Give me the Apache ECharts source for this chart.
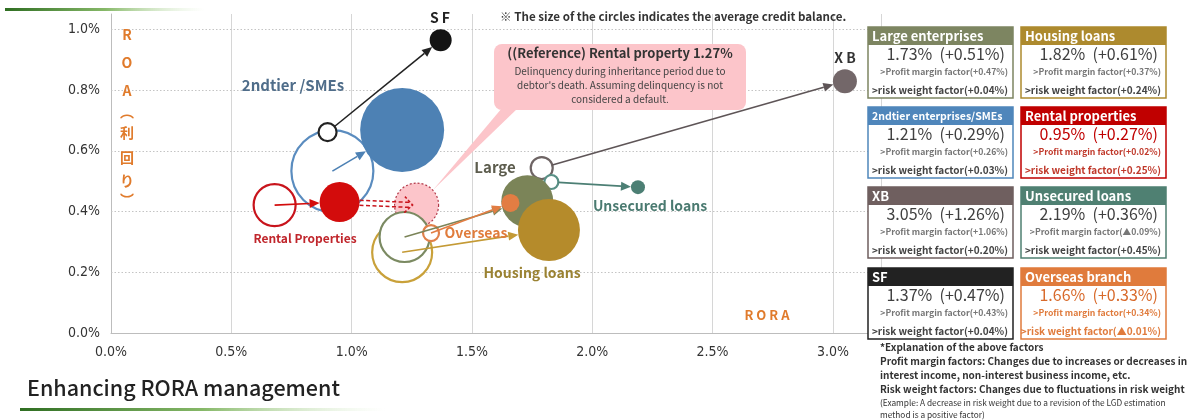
<!DOCTYPE html>
<html><head><meta charset="utf-8">
<script src="https://cdn.jsdelivr.net/npm/echarts@6/dist/echarts.min.js"></script>
<style>html,body{margin:0;padding:0;background:#fff}#c{width:1192px;height:420px}</style>
</head><body><div id="c"></div>
<script>
// ---- data ----
const categories = ['SF','2ndtier/SMEs','Rental properties','Large enterprises','Housing loans','Overseas branch','Unsecured loans','XB'];
const roraCur  = [1.37, 1.21, 0.95, 1.73, 1.82, 1.66, 2.19, 3.05];
const roaCur   = [0.964, 0.668, 0.431, 0.434, 0.339, 0.428, 0.480, 0.829];
const roraPrev = [0.90, 0.92, 0.68, 1.22, 1.21, 1.33, 1.83, 1.79];
const roaPrev  = [0.661, 0.533, 0.421, 0.316, 0.266, 0.329, 0.497, 0.543];
const balanceCur  = [22, 84, 40, 52, 62, 18, 14, 24];
const balancePrev = [18, 82, 42, 50, 60, 16, 14, 22];
const refRora = 1.27, refRoa = 0.421, refBalance = 44;
const xTicks = [0, 0.5, 1.0, 1.5, 2.0, 2.5, 3.0];
const yTicks = [0.2, 0.4, 0.6, 0.8, 1.0];

const panelNames  = ['Large enterprises','Housing loans','2ndtier enterprises/SMEs','Rental properties','XB','Unsecured loans','SF','Overseas branch'];
const panelRora   = ['1.73%','1.82%','1.21%','0.95%','3.05%','2.19%','1.37%','1.66%'];
const panelDelta  = ['+0.51%','+0.61%','+0.29%','+0.27%','+1.26%','+0.36%','+0.47%','+0.33%'];
const panelProfit = ['+0.47%','+0.37%','+0.26%','+0.02%','+1.06%','▲0.09%','+0.43%','+0.34%'];
const panelRisk   = ['+0.04%','+0.24%','+0.03%','+0.25%','+0.20%','+0.45%','+0.04%','▲0.01%'];

// ---- styles ----
const FONT = "'Noto Sans CJK JP','Noto Sans',sans-serif";
const NARROW = "'Liberation Sans Narrow','DejaVu Sans Condensed','Noto Sans CJK JP',sans-serif";
const fillCol   = ['#141414','#4d81b4','#d30c0c','#7b8458','#b58b2b','#e27d43','#4c7f74','#736769'];
const hollowCol = ['#222222','#5a8cbf','#c8141c','#7b8a62','#c9a13a','#e0804a','#5a9086','#6e6464'];
const arrowCol  = ['#222222','#4d81b4','#d30c0c','#7b8458','#c49a35','#e27d43','#4c7f74','#5e5557'];
const startAtEdge = [true,false,false,false,false,false,true,true];
const hollowOrder = [4,3,5,1,0,2,7,6];
const filledOrder = [3,4,5,1,2,0,6,7];
const panelCol = ['#7d8561','#ad8a2e','#4f86bb','#c00000','#6f5f5f','#4f8072','#222222','#e07b3c'];
const panelValCol = ['#404040','#404040','#404040','#c00000','#404040','#404040','#404040','#d86a2b'];
const panelSubCol = ['#777','#777','#777','#c0392b','#777','#777','#777','#e07b3c'];

const chart = echarts.init(document.getElementById('c'), null, {renderer:'canvas'});

function arrowEls(x0,y0,x1,y1,color,dashed){
  const dx=x1-x0, dy=y1-y0, L=Math.sqrt(dx*dx+dy*dy)||1, ux=dx/L, uy=dy/L, px=-uy, py=ux;
  const hl=10, hw=4.5;
  const bx=x1-ux*hl, by=y1-uy*hl;
  if(!dashed){
    return [
      {type:'line', shape:{x1:x0,y1:y0,x2:bx,y2:by}, style:{stroke:color,lineWidth:1.6}},
      {type:'polygon', shape:{points:[[x1,y1],[bx+px*hw,by+py*hw],[bx-px*hw,by-py*hw]]}, style:{fill:color}}
    ];
  }
  const o=2.5, els=[];
  [o,-o].forEach(s=>{
    els.push({type:'line', shape:{x1:x0+px*s,y1:y0+py*s,x2:x1-ux*2+px*s,y2:y1-uy*2+py*s}, style:{stroke:color,lineWidth:1.5,lineDash:[4,2.5]}});
  });
  els.push({type:'polyline', shape:{points:[[x1-ux*8+px*8,y1-uy*8+py*8],[x1,y1],[x1-ux*8-px*8,y1-uy*8-py*8]]}, style:{stroke:color,lineWidth:1.5,lineDash:[3,2],fill:null}});
  return els;
}

const arrowData = roraCur.map((v,i)=>[v, roaCur[i], i]).concat([[refRora, refRoa, 99]]);

const option = {
  animation:false,
  grid:{left:111, right:311, top:14, bottom:87, containLabel:false},
  xAxis:{type:'value', min:0, max:3.2, interval:0.5,
    axisLine:{show:true, lineStyle:{color:'#bdbdbd', width:1}}, axisTick:{show:false},
    splitLine:{show:true, lineStyle:{color:'#d6d6d6', width:1}},
    axisLabel:{showMaxLabel:false, margin:12, color:'#333', fontSize:14, fontFamily:NARROW,
      formatter:v=> xTicks.indexOf(v)>=0 ? v.toFixed(1)+'%' : ''}},
  yAxis:{type:'value', min:0, max:1.05, interval:0.2,
    axisLine:{show:true, lineStyle:{color:'#bdbdbd', width:1}}, axisTick:{show:false},
    splitLine:{show:false},
    axisLabel:{showMaxLabel:false, margin:11, color:'#333', fontSize:14, fontFamily:NARROW,
      formatter:v=> v.toFixed(1)+'%'}},
  series:[
    { // dotted horizontal grid
      type:'custom', z:1, silent:true, data: yTicks.map(v=>[0,v]),
      renderItem:(params, api)=>{
        const cs=params.coordSys, y=Math.round(api.coord([0, api.value(1)])[1])+0.5;
        return {type:'line', shape:{x1:cs.x, y1:y, x2:cs.x+cs.width, y2:y}, style:{stroke:'#c4c4c4', lineWidth:1, lineDash:[1.5,2]}};
      }
    },
    { // reference circle
      type:'scatter', z:4, silent:true, symbol:'circle',
      data:[{value:[refRora, refRoa], symbolSize:refBalance, itemStyle:{color:'#fcc5ca', opacity:1, borderColor:'#b33a4a', borderWidth:1.2, borderType:[2,2]}}]
    },
    { // previous year (hollow)
      type:'scatter', z:5, silent:true, symbol:'circle',
      data: hollowOrder.map(i=>({value:[roraPrev[i], roaPrev[i]], symbolSize:balancePrev[i], itemStyle:{color:'#fff', opacity:1, borderColor:hollowCol[i], borderWidth:2.2}}))
    },
    { // arrows
      type:'custom', z:6, silent:true, data: arrowData, encode:{x:0,y:1},
      renderItem:(params, api)=>{
        const i = api.value(2);
        if(i===99){
          const a=api.coord([roraCur[2], roaCur[2]]), b=api.coord([refRora, refRoa]);
          const dx=b[0]-a[0], dy=b[1]-a[1], L=Math.sqrt(dx*dx+dy*dy);
          const r0=balanceCur[2]/2;
          return {type:'group', children: arrowEls(a[0]+dx/L*r0, a[1]+dy/L*r0, b[0]-dx/L*4, b[1]-dy/L*4, '#c8141c', true)};
        }
        const p0=api.coord([roraPrev[i], roaPrev[i]]), p1=api.coord([roraCur[i], roaCur[i]]);
        const dx=p1[0]-p0[0], dy=p1[1]-p0[1], L=Math.sqrt(dx*dx+dy*dy)||1;
        const s = startAtEdge[i] ? balancePrev[i]/2 : 0;
        const e = balanceCur[i]/2;
        return {type:'group', children: arrowEls(p0[0]+dx/L*s, p0[1]+dy/L*s, p1[0]-dx/L*e, p1[1]-dy/L*e, arrowCol[i], false)};
      }
    },
    { // current (filled)
      type:'scatter', z:7, silent:true, symbol:'circle',
      data: filledOrder.map(i=>({value:[roraCur[i], roaCur[i]], symbolSize:balanceCur[i], itemStyle:{color:fillCol[i], opacity:1, borderWidth:0}}))
    }
  ],
  graphic:[]
};

const G = [];
const grad = ()=>new echarts.graphic.LinearGradient(0,0,1,0,[{offset:0,color:'#2f6e22'},{offset:0.5,color:'#86b868'},{offset:1,color:'rgba(210,235,195,0)'}]);
G.push({type:'rect', z:3, shape:{x:5,y:8,width:200,height:3}, style:{fill:grad()}});
G.push({type:'rect', z:3, shape:{x:20,y:408,width:365,height:3}, style:{fill:grad()}});
G.push({type:'text', z:3, x:27, y:388, style:{text:'Enhancing RORA management', font:"500 21.5px "+FONT, fill:'#222', verticalAlign:'middle'}});
// y title vertical
const yTitle = ['R','O','A','︵','利','回','り','︶'];
const yTitleY = [35,63,91,112,133,158,181,200];
yTitle.forEach((ch,k)=>G.push({type:'text', z:3, x:127, y:yTitleY[k], style:{text:ch, font:"bold 14px "+FONT, fill:'#e07b2c', align:'center', verticalAlign:'middle'}}));
G.push({type:'text', z:3, x:767, y:315, style:{text:'R O R A', font:"bold 13px "+FONT, fill:'#e07b2c', align:'center', verticalAlign:'middle'}});
// note
G.push({type:'text', z:3, x:500, y:17, style:{text:'※ The size of the circles indicates the average credit balance.', font:"bold 11.6px "+FONT, fill:'#333', verticalAlign:'middle'}});
// callout
G.push({type:'polygon', z:3, shape:{points:[[502,108],[518,108],[433,190]]}, style:{fill:'#fcc5ca'}});
G.push({type:'rect', z:3, shape:{x:494,y:44,width:252,height:66,r:8}, style:{fill:'#fcc5ca'}});
G.push({type:'text', z:3, x:620, y:53, style:{text:'((Reference) Rental property '+refRora.toFixed(2)+'%', font:"bold 13px "+FONT, fill:'#333', align:'center', verticalAlign:'middle'}});
['Delinquency during inheritance period due to',"debtor's death. Assuming delinquency is not",'considered a default.'].forEach((t,k)=>
  G.push({type:'text', z:3, x:620, y:71+k*14, style:{text:t, font:"10px "+FONT, fill:'#444', align:'center', verticalAlign:'middle'}}));
// bubble labels
const lab = [
  ['S F',440,18,'#222',14],['X B',845,58,'#333',14],['2ndtier /SMEs',293,85,'#4f6d8a',15],
  ['Rental Properties',305,238,'#c0262c',12],['Large',495,167,'#5d5d4e',15],['Unsecured loans',650,206,'#4a7a70',14],
  ['Overseas',476,233,'#e07c3c',14],['Housing loans',532,273,'#9a8232',14]];
lab.forEach(l=>G.push({type:'text', z:8, x:l[1], y:l[2], style:{text:l[0], font:"bold "+l[4]+"px "+FONT, fill:l[3], align:'center', verticalAlign:'middle'}}));
// panels
const colX=[868,1021], rowY=[27,107,187,268], PW=145, PH=71;
panelNames.forEach((n,k)=>{
  const x=colX[k%2], y=rowY[Math.floor(k/2)];
  G.push({type:'rect', z:20, shape:{x:x,y:y,width:PW,height:PH}, style:{fill:'#fff', stroke:panelCol[k], lineWidth:1.5}});
  G.push({type:'rect', z:21, shape:{x:x,y:y,width:PW,height:18}, style:{fill:panelCol[k]}});
  G.push({type:'text', z:22, x:x+4, y:y+9.5, style:{text:n, font:"bold "+(n.length>20?'10.5':'13')+"px "+FONT, fill:'#fff', verticalAlign:'middle'}});
  G.push({type:'text', z:22, x:x+PW-8, y:y+27, style:{text:panelRora[k]+'  ('+panelDelta[k]+')', font:"16px "+FONT, fill:panelValCol[k], align:'right', verticalAlign:'middle'}});
  G.push({type:'text', z:22, x:x+PW-5, y:y+45, style:{text:'>Profit margin factor('+panelProfit[k]+')', font:"bold 8.7px "+FONT, fill:panelSubCol[k], align:'right', verticalAlign:'middle'}});
  G.push({type:'text', z:22, x:x+PW-5, y:y+63, style:{text:'>risk weight factor('+panelRisk[k]+')', font:"bold 10px "+FONT, fill:panelSubCol[k]==='#777'?'#444':panelSubCol[k], align:'right', verticalAlign:'middle'}});
});
// explanation
const ex = [['*Explanation of the above factors',347,10],['Profit margin factors: Changes due to increases or decreases in',361,10],
  ['interest income, non-interest business income, etc.',375,10],['Risk weight factors: Changes due to fluctuations in risk weight',389,10],
  ['(Example: A decrease in risk weight due to a revision of the LGD estimation',403,8.3],['method is a positive factor)',415,8.3]];
ex.forEach(e=>G.push({type:'text', z:22, x:880, y:e[1], style:{text:e[0], font:(e[2]>9?'bold ':'')+e[2]+"px "+FONT, fill:'#333', verticalAlign:'middle'}}));
option.graphic = G;
chart.setOption(option);
</script></body></html>
